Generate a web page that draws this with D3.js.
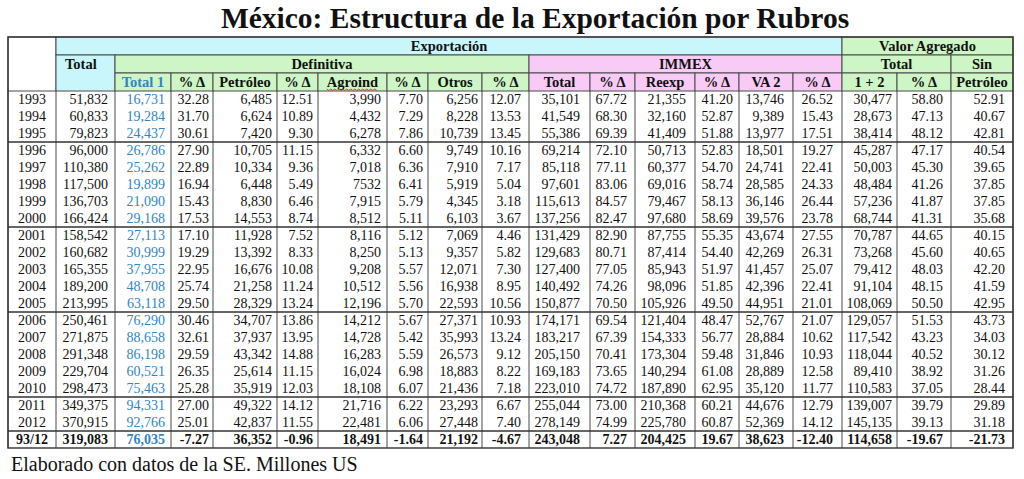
<!DOCTYPE html>
<html>
<head>
<meta charset="utf-8">
<script src="https://cdn.jsdelivr.net/npm/d3@7"></script>
<style>
  body { margin: 0; background: #fff; }
  svg { display: block; }
</style>
</head>
<body>
<svg id="chart" width="1024" height="479"></svg>
<script>
// data, as printed in the table (millones de US)
const years = ["1993", "1994", "1995", "1996", "1997", "1998", "1999", "2000", "2001", "2002", "2003",
    "2004", "2005", "2006", "2007", "2008", "2009", "2010", "2011", "2012", "93/12"];
const total = ["51,832", "60,833", "79,823", "96,000", "110,380", "117,500", "136,703", "166,424", "158,542",
    "160,682", "165,355", "189,200", "213,995", "250,461", "271,875", "291,348", "229,704", "298,473",
    "349,375", "370,915", "319,083"];
const total1 = ["16,731", "19,284", "24,437", "26,786", "25,262", "19,899", "21,090", "29,168", "27,113",
    "30,999", "37,955", "48,708", "63,118", "76,290", "88,658", "86,198", "60,521", "75,463", "94,331",
    "92,766", "76,035"];
const total1Pct = ["32.28", "31.70", "30.61", "27.90", "22.89", "16.94", "15.43", "17.53", "17.10", "19.29",
    "22.95", "25.74", "29.50", "30.46", "32.61", "29.59", "26.35", "25.28", "27.00", "25.01", "-7.27"];
const petroleo = ["6,485", "6,624", "7,420", "10,705", "10,334", "6,448", "8,830", "14,553", "11,928",
    "13,392", "16,676", "21,258", "28,329", "34,707", "37,937", "43,342", "25,614", "35,919", "49,322",
    "42,837", "36,352"];
const petroleoPct = ["12.51", "10.89", "9.30", "11.15", "9.36", "5.49", "6.46", "8.74", "7.52", "8.33",
    "10.08", "11.24", "13.24", "13.86", "13.95", "14.88", "11.15", "12.03", "14.12", "11.55", "-0.96"];
const agroind = ["3,990", "4,432", "6,278", "6,332", "7,018", "7532", "7,915", "8,512", "8,116", "8,250",
    "9,208", "10,512", "12,196", "14,212", "14,728", "16,283", "16,024", "18,108", "21,716", "22,481",
    "18,491"];
const agroindPct = ["7.70", "7.29", "7.86", "6.60", "6.36", "6.41", "5.79", "5.11", "5.12", "5.13", "5.57",
    "5.56", "5.70", "5.67", "5.42", "5.59", "6.98", "6.07", "6.22", "6.06", "-1.64"];
const otros = ["6,256", "8,228", "10,739", "9,749", "7,910", "5,919", "4,345", "6,103", "7,069", "9,357",
    "12,071", "16,938", "22,593", "27,371", "35,993", "26,573", "18,883", "21,436", "23,293", "27,448",
    "21,192"];
const otrosPct = ["12.07", "13.53", "13.45", "10.16", "7.17", "5.04", "3.18", "3.67", "4.46", "5.82", "7.30",
    "8.95", "10.56", "10.93", "13.24", "9.12", "8.22", "7.18", "6.67", "7.40", "-4.67"];
const immexTotal = ["35,101", "41,549", "55,386", "69,214", "85,118", "97,601", "115,613", "137,256",
    "131,429", "129,683", "127,400", "140,492", "150,877", "174,171", "183,217", "205,150", "169,183",
    "223,010", "255,044", "278,149", "243,048"];
const immexPct = ["67.72", "68.30", "69.39", "72.10", "77.11", "83.06", "84.57", "82.47", "82.90", "80.71",
    "77.05", "74.26", "70.50", "69.54", "67.39", "70.41", "73.65", "74.72", "73.00", "74.99", "7.27"];
const reexp = ["21,355", "32,160", "41,409", "50,713", "60,377", "69,016", "79,467", "97,680", "87,755",
    "87,414", "85,943", "98,096", "105,926", "121,404", "154,333", "173,304", "140,294", "187,890",
    "210,368", "225,780", "204,425"];
const reexpPct = ["41.20", "52.87", "51.88", "52.83", "54.70", "58.74", "58.13", "58.69", "55.35", "54.40",
    "51.97", "51.85", "49.50", "48.47", "56.77", "59.48", "61.08", "62.95", "60.21", "60.87", "19.67"];
const va2 = ["13,746", "9,389", "13,977", "18,501", "24,741", "28,585", "36,146", "39,576", "43,674",
    "42,269", "41,457", "42,396", "44,951", "52,767", "28,884", "31,846", "28,889", "35,120", "44,676",
    "52,369", "38,623"];
const va2Pct = ["26.52", "15.43", "17.51", "19.27", "22.41", "24.33", "26.44", "23.78", "27.55", "26.31",
    "25.07", "22.41", "21.01", "21.07", "10.62", "10.93", "12.58", "11.77", "12.79", "14.12", "-12.40"];
const va12 = ["30,477", "28,673", "38,414", "45,287", "50,003", "48,484", "57,236", "68,744", "70,787",
    "73,268", "79,412", "91,104", "108,069", "129,057", "117,542", "118,044", "89,410", "110,583",
    "139,007", "145,135", "114,658"];
const va12Pct = ["58.80", "47.13", "48.12", "47.17", "45.30", "41.26", "41.87", "41.31", "44.65", "45.60",
    "48.03", "48.15", "50.50", "51.53", "43.23", "40.52", "38.92", "37.05", "39.79", "39.13", "-19.67"];
const sinPetroleo = ["52.91", "40.67", "42.81", "40.54", "39.65", "37.85", "37.85", "35.68", "40.15", "40.65",
    "42.20", "41.59", "42.95", "43.73", "34.03", "30.12", "31.26", "28.44", "29.89", "31.18", "-21.73"];

// last year of every block, a ruled line goes under it
const blockEnds = ["1995", "2000", "2005", "2010", "2012"];

const subHeaders = ["", "", "Total 1", "% Δ", "Petróleo", "% Δ", "Agroind", "% Δ", "Otros", "% Δ",
    "Total", "% Δ", "Reexp", "% Δ", "VA 2", "% Δ", "1 + 2", "% Δ", "Petróleo"];

const columns = [years, total, total1, total1Pct, petroleo, petroleoPct, agroind, agroindPct, otros, otrosPct,
    immexTotal, immexPct, reexp, reexpPct, va2, va2Pct, va12, va12Pct, sinPetroleo];

// layout
const colEdges = [8, 56, 115, 171, 213, 277, 318, 387, 428, 482, 529, 590, 635, 695, 739, 793, 842, 897, 951, 1013];
const colPad = [0, 7, 6, 4, 5, 5, 6, 5, 4, 8, 10, 8, 9, 6, 9, 9, 5, 8, 8];
const headY = [37, 55, 73, 91];
const tableBottom = 448;

const cyan = "#c9f6fb";
const green = "#cdf5c5";
const pink = "#f7cbf6";
const blue = "#2f86c6";
const lineColor = "#4a4a4a";
const serif = "'Liberation Serif', 'Times New Roman', serif";

let svg = d3.select("#chart");

svg.append("text")
    .attr("x", 535)
    .attr("y", 28)
    .attr("text-anchor", "middle")
    .attr("font-family", serif)
    .attr("font-weight", "bold")
    .attr("font-size", 29.5)
    .attr("fill", "#111")
    .text("México: Estructura de la Exportación por Rubros");

// header cells: column edge index and header row index
let headCells = [
    {c0: 0, c1: 1, r0: 0, r1: 3, text: "", fill: "#fff"},
    {c0: 1, c1: 16, r0: 0, r1: 1, text: "Exportación", fill: cyan},
    {c0: 16, c1: 19, r0: 0, r1: 1, text: "Valor Agregado", fill: green},
    {c0: 1, c1: 2, r0: 1, r1: 3, text: "Total", fill: cyan, left: true},
    {c0: 2, c1: 10, r0: 1, r1: 2, text: "Definitiva", fill: green},
    {c0: 10, c1: 16, r0: 1, r1: 2, text: "IMMEX", fill: pink},
    {c0: 16, c1: 18, r0: 1, r1: 2, text: "Total", fill: green},
    {c0: 18, c1: 19, r0: 1, r1: 2, text: "Sin", fill: green}
];
for (let i = 2; i < subHeaders.length; i++) {
    headCells.push({
        c0: i, c1: i + 1, r0: 2, r1: 3, text: subHeaders[i],
        fill: (i >= 10 && i < 16) ? pink : green,
        color: i === 2 ? blue : "#111"
    });
}

let head = svg.append("g").attr("class", "head");

head.selectAll("rect")
    .data(headCells)
    .enter().append("rect")
    .attr("x", d => colEdges[d.c0])
    .attr("y", d => headY[d.r0])
    .attr("width", d => colEdges[d.c1] - colEdges[d.c0])
    .attr("height", d => headY[d.r1] - headY[d.r0])
    .attr("fill", d => d.fill)
    .attr("stroke", lineColor)
    .attr("stroke-width", 1);

head.selectAll("text")
    .data(headCells.filter(d => d.text))
    .enter().append("text")
    .attr("x", d => d.left ? colEdges[d.c0] + 9 : (colEdges[d.c0] + colEdges[d.c1]) / 2)
    .attr("y", d => headY[d.r0] + 14)
    .attr("text-anchor", d => d.left ? "start" : "middle")
    .attr("font-family", serif)
    .attr("font-weight", "bold")
    .attr("font-size", 14.5)
    .attr("fill", d => d.color || "#111")
    .text(d => d.text);

// red spell-check squiggle under "Agroind"
let agro = head.selectAll("text").filter(d => d.text === "Agroind").node();
if (agro) {
    let bb = agro.getBBox();
    let pts = d3.range(bb.x, bb.x + bb.width, 2).map((x, i) => [x, bb.y + bb.height - 1 + (i % 2 ? 1.5 : 0)]);
    head.append("path")
        .attr("d", d3.line()(pts))
        .attr("fill", "none")
        .attr("stroke", "#e03030")
        .attr("stroke-width", 0.9);
}

// body
let y = d3.scaleBand()
    .domain(years)
    .range([headY[3], tableBottom]);

let body = svg.append("g").attr("class", "body");

let cells = [];
columns.forEach((col, c) => {
    col.forEach((v, r) => {
        cells.push({c: c, year: years[r], text: v});
    });
});

body.selectAll("text")
    .data(cells)
    .enter().append("text")
    .attr("x", d => d.c === 0 ? (colEdges[0] + colEdges[1]) / 2 : colEdges[d.c + 1] - colPad[d.c])
    .attr("y", d => y(d.year) + 13)
    .attr("text-anchor", d => d.c === 0 ? "middle" : "end")
    .attr("font-family", serif)
    .attr("font-size", 14)
    .attr("font-weight", d => d.year === "93/12" ? "bold" : "normal")
    .attr("fill", d => d.c === 2 ? blue : "#111")
    .text(d => d.text);

body.selectAll("line.vline")
    .data(colEdges)
    .enter().append("line")
    .attr("class", "vline")
    .attr("x1", d => d)
    .attr("x2", d => d)
    .attr("y1", headY[3])
    .attr("y2", tableBottom)
    .attr("stroke", lineColor)
    .attr("stroke-width", 1);

body.selectAll("line.hline")
    .data(blockEnds)
    .enter().append("line")
    .attr("class", "hline")
    .attr("x1", colEdges[0])
    .attr("x2", colEdges[colEdges.length - 1])
    .attr("y1", d => y(d) + y.bandwidth())
    .attr("y2", d => y(d) + y.bandwidth())
    .attr("stroke", "#333")
    .attr("stroke-width", 1.6);

svg.append("rect")
    .attr("x", colEdges[0])
    .attr("y", headY[0])
    .attr("width", colEdges[colEdges.length - 1] - colEdges[0])
    .attr("height", tableBottom - headY[0])
    .attr("fill", "none")
    .attr("stroke", "#333")
    .attr("stroke-width", 1.4);

svg.append("text")
    .attr("x", 11)
    .attr("y", 471)
    .attr("font-family", serif)
    .attr("font-size", 20)
    .attr("fill", "#111")
    .text("Elaborado con datos de la SE. Millones US");
</script>
</body>
</html>
